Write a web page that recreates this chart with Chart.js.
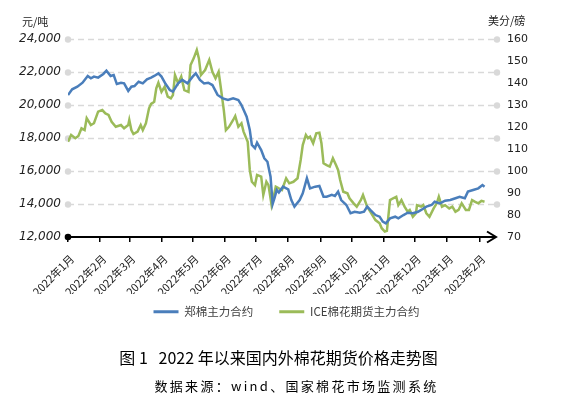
<!DOCTYPE html>
<html>
<head>
<meta charset="utf-8">
<script src="https://cdn.jsdelivr.net/npm/chart.js@4.4.0/dist/chart.umd.min.js"></script>
<style>
    html, body { margin: 0; padding: 0; background: #fff; }
    #wrap { position: relative; width: 573px; height: 397px; }
    canvas { position: absolute; left: 0; top: 0; }
    .cap { position: absolute; width: 573px; text-align: center; font-family: "Noto Sans CJK SC"; color: #000; white-space: pre; }
</style>
</head>
<body>
<div id="wrap">
    <canvas id="priceChart" width="573" height="397"></canvas>
    <div class="cap" style="left:-8px; top:345px; font-size:16px;">图 1   2022 年以来国内外棉花期货价格走势图</div>
    <div class="cap" style="left:10px; top:376px; font-size:13px; letter-spacing:2.3px;">数据来源：wind、国家棉花市场监测系统</div>
</div>
<script>
// x values are days counted from 2022-01-01
const monthDays = [0, 31, 59, 90, 120, 151, 181, 212, 243, 273, 304, 334, 365, 396];
const monthLabels = [
    '2022年1月', '2022年2月', '2022年3月', '2022年4月', '2022年5月', '2022年6月', '2022年7月',
    '2022年8月', '2022年9月', '2022年10月', '2022年11月', '2022年12月', '2023年1月', '2023年2月'
];

// 郑棉主力合约 (元/吨)
const zcDays = [0, 4, 9, 14, 19, 22, 25, 29, 34, 37, 41, 44, 47, 51, 54, 58, 61, 64, 68, 72,
    76, 80, 83, 87, 90, 94, 98, 101, 106, 110, 115, 120, 123, 127, 131, 135, 139, 144, 149, 154,
    159, 164, 167, 172, 175, 177, 180, 182, 186, 189, 192, 195, 197, 199, 201, 203, 207, 212, 215, 218,
    223, 226, 230, 233, 238, 242, 246, 249, 254, 257, 260, 263, 268, 272, 276, 281, 285, 288, 291, 296,
    300, 303, 306, 310, 315, 318, 323, 327, 332, 337, 340, 345, 350, 353, 358, 363, 368, 373, 377, 382,
    385, 390, 395, 399, 401];
const zcPrice = [20600, 20950, 21110, 21350, 21760, 21620, 21720, 21660, 21880, 22080, 21760, 21820, 21270, 21350, 21310, 20850, 21110, 21150, 21410, 21310,
    21560, 21660, 21760, 21920, 21720, 21270, 20910, 20810, 21310, 21520, 21310, 21720, 21920, 21520, 21310, 21350, 21210, 20610, 20400, 20300,
    20400, 20300, 20000, 19290, 18490, 17580, 17380, 17720, 17270, 16770, 16560, 15650, 14000, 14400, 14850, 14700, 15050, 14890, 14240, 13840,
    14240, 14650, 15560, 14950, 15050, 15090, 14440, 14440, 14550, 14480, 14750, 14240, 13940, 13440, 13530, 13470, 13530, 13840, 13640, 13330,
    13230, 12930, 12830, 13130, 13230, 13130, 13330, 13470, 13440, 13530, 13640, 13840, 13940, 14140, 14040, 14200, 14240, 14350, 14440, 14350,
    14750, 14850, 14950, 15150, 15050];

// ICE棉花期货主力合约 (美分/磅)
const iceDays = [0, 3, 7, 10, 13, 16, 18, 22, 25, 29, 33, 36, 39, 42, 46, 51, 54, 58, 59, 61,
    63, 67, 70, 72, 75, 78, 80, 83, 85, 87, 90, 93, 96, 99, 101, 103, 106, 109, 112, 116,
    118, 121, 124, 126, 128, 132, 136, 139, 142, 145, 147, 150, 152, 155, 159, 161, 164, 167, 169, 173,
    175, 177, 180, 182, 186, 188, 191, 193, 196, 198, 200, 203, 206, 210, 213, 217, 221, 224, 226, 229,
    231, 233, 236, 239, 242, 244, 246, 249, 252, 255, 258, 260, 262, 265, 269, 271, 275, 278, 282, 284,
    288, 291, 296, 300, 302, 305, 307, 310, 313, 316, 318, 321, 324, 327, 329, 332, 335, 336, 340, 342,
    345, 348, 352, 355, 357, 360, 363, 367, 370, 373, 376, 379, 383, 386, 389, 392, 395, 398, 401];
const icePrice = [113.3, 116.4, 114.9, 115.9, 119.4, 118.6, 124, 120.9, 121.7, 127, 127.7, 126.2, 125.5, 122.4, 120.1, 120.9, 119.4, 120.9, 123.2, 118.6,
    116.8, 117.9, 120.9, 118.6, 121.7, 128.5, 130.5, 131.5, 137.6, 140.1, 136, 138.3, 133.8, 133, 134.5, 143.6, 139.9, 142.9, 136.8, 136,
    148.2, 151.2, 155, 151.2, 143.6, 145.9, 150.5, 145.1, 142.1, 145.1, 138.3, 127.7, 118.6, 120.1, 123.2, 125, 120.1, 121.7, 117.9, 113.3,
    100.5, 95.1, 93.6, 98.2, 97.4, 89.1, 95.1, 93.6, 84.5, 88.3, 92.9, 92.1, 91.4, 96.7, 94.4, 95.1, 96.7, 105, 111.8, 116.4,
    114.9, 115.6, 112.6, 117.1, 117.4, 112.6, 103.5, 102.7, 102, 105.8, 102.7, 100.5, 95.9, 90.6, 89.9, 87.6, 85.3, 83.8, 86.8, 89.1,
    83.8, 81.5, 77.7, 76.2, 74, 72.5, 72.8, 86.8, 87.6, 88.3, 84.5, 86.8, 83.8, 81.5, 82.3, 79.2, 80.8, 84.5, 83.8, 84.5,
    80.8, 79.2, 83, 85.3, 88.3, 83.8, 84.5, 83, 83.8, 81.5, 82.3, 85.3, 82.3, 82.3, 86.8, 86, 85.3, 86.4, 86];

const toPoints = (xs, ys) => xs.map((x, i) => ({ x: x, y: ys[i] }));

// dashed gridlines with dots at both ends, black x axis with arrow, unit labels
const decor = {
    id: 'decor',
    afterLayout(chart) {
        // pull the legend up so it sits closer under the rotated month labels
        const lg = chart.legend;
        if (lg) {
            lg.top -= 14;
            lg.bottom -= 14;
        }
    },
    beforeDatasetsDraw(chart) {
        const { ctx, chartArea: a, scales: { y } } = chart;
        ctx.save();
        y.ticks.forEach(t => {
            if (t.value === y.min) return;
            const py = Math.round(y.getPixelForValue(t.value)) + 0.5;
            ctx.strokeStyle = '#d9d9d9';
            ctx.lineWidth = 1.5;
            ctx.setLineDash([6, 4]);
            ctx.beginPath();
            ctx.moveTo(a.left, py);
            ctx.lineTo(a.right, py);
            ctx.stroke();
            ctx.setLineDash([]);
            ctx.fillStyle = '#d9d9d9';
            [a.left, a.right].forEach(px => {
                ctx.beginPath();
                ctx.arc(px, py, 3.2, 0, Math.PI * 2);
                ctx.fill();
            });
        });
        ctx.restore();
    },
    afterDatasetsDraw(chart) {
        const { ctx, chartArea: a } = chart;
        const yb = a.bottom;
        const tip = a.right - 1;
        ctx.save();
        ctx.strokeStyle = '#000';
        ctx.lineWidth = 2;
        ctx.beginPath();
        ctx.moveTo(a.left, yb);
        ctx.lineTo(tip, yb);
        ctx.stroke();
        ctx.beginPath();
        ctx.moveTo(tip - 9, yb - 5.5);
        ctx.lineTo(tip, yb);
        ctx.lineTo(tip - 9, yb + 5.5);
        ctx.stroke();
        ctx.fillStyle = '#000';
        ctx.beginPath();
        ctx.arc(a.left, yb, 3.3, 0, Math.PI * 2);
        ctx.fill();
        ctx.restore();
    },
    afterDraw(chart) {
        const ctx = chart.ctx;
        ctx.save();
        ctx.fillStyle = '#222';
        ctx.textBaseline = 'middle';
        ctx.font = '11px "Noto Sans CJK SC"';
        ctx.fillText('元/吨', 22, 22);
        ctx.fillText('美分/磅', 488, 21);
        ctx.restore();
    }
};

const ctx = document.getElementById('priceChart').getContext('2d');
new Chart(ctx, {
    type: 'line',
    data: {
        datasets: [
            {
                label: '郑棉主力合约',
                data: toPoints(zcDays, zcPrice),
                borderColor: '#4a7ebb',
                backgroundColor: '#4a7ebb',
                borderWidth: 2.5,
                pointRadius: 0,
                tension: 0,
                yAxisID: 'y'
            },
            {
                label: 'ICE棉花期货主力合约',
                data: toPoints(iceDays, icePrice),
                borderColor: '#9bbb59',
                backgroundColor: '#9bbb59',
                borderWidth: 2.5,
                pointRadius: 0,
                tension: 0,
                yAxisID: 'y1'
            }
        ]
    },
    options: {
        responsive: false,
        animation: false,
        devicePixelRatio: 1,
        layout: { padding: { top: 39, bottom: 55.5, left: 0, right: 0 } },
        plugins: {
            legend: {
                position: 'bottom',
                labels: {
                    boxWidth: 25,
                    boxHeight: 3,
                    padding: 26,
                    color: '#404040',
                    font: { family: 'Noto Sans CJK SC', size: 11.5 },
                    generateLabels: c => Chart.defaults.plugins.legend.labels.generateLabels(c)
                        .map(l => ({ ...l, lineWidth: 0, fillStyle: l.strokeStyle }))
                }
            },
            tooltip: { enabled: false }
        },
        scales: {
            x: {
                type: 'linear',
                min: 0,
                max: 413,
                afterBuildTicks: s => { s.ticks = monthDays.map(v => ({ value: v })); },
                afterFit: s => { s.height = 57; },
                ticks: {
                    autoSkip: false,
                    minRotation: 45,
                    maxRotation: 45,
                    padding: 10,
                    labelOffset: 4,
                    color: '#222',
                    font: { family: 'Noto Sans CJK SC', size: 11 },
                    callback: (v, i) => monthLabels[i]
                },
                grid: { drawOnChartArea: false, drawTicks: true, tickLength: 5, color: '#000', lineWidth: 1.5 },
                border: { display: false }
            },
            y: {
                position: 'left',
                min: 12000,
                max: 24000,
                afterFit: s => { s.width = 68; },
                ticks: {
                    stepSize: 2000,
                    padding: 7,
                    color: '#222',
                    font: { family: 'DejaVu Sans', size: 12, style: 'italic' }
                },
                grid: { display: false, drawTicks: false },
                border: { display: false }
            },
            y1: {
                position: 'right',
                min: 70,
                max: 160,
                afterFit: s => { s.width = 76; },
                ticks: {
                    stepSize: 10,
                    padding: 10,
                    color: '#222',
                    font: { family: 'DejaVu Sans', size: 11 }
                },
                grid: { display: false, drawTicks: false },
                border: { display: false }
            }
        }
    },
    plugins: [decor]
});
</script>
</body>
</html>
